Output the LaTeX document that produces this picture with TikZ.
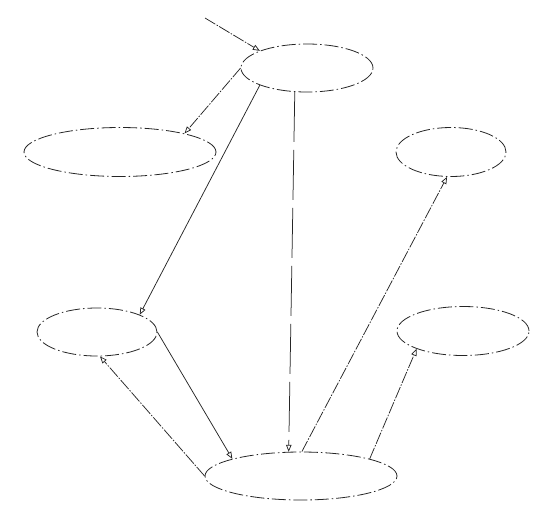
\documentclass[tikz,border=0pt]{standalone}
\usetikzlibrary{shapes.geometric,arrows.meta}
\begin{document}
\begin{tikzpicture}[x=1pt,y=-1pt,
  ell/.style={draw=black!85,ellipse,inner sep=0pt,line width=0.8pt,
    dash pattern=on 14pt off 3pt on 1.5pt off 3pt},
  conn/.style={draw=black!85,line width=0.75pt,
    dash pattern=on 12pt off 1.5pt on 1.5pt off 1.5pt,
    -{Triangle[open,length=7pt,width=5.5pt]}},
  plain/.style={draw=black!85,line width=0.75pt,
    -{Triangle[open,length=7pt,width=5.5pt]}},
  longdash/.style={draw=black!85,line width=0.75pt,
    dash pattern=on 50pt off 8pt,
    -{Triangle[open,length=7pt,width=5.5pt]}}]
\useasboundingbox (0,0) rectangle (553,528);
\node[ell,minimum width=132pt,minimum height=48pt] (A) at (307,68) {};
\node[ell,minimum width=192pt,minimum height=49pt] (B) at (120,152) {};
\node[ell,minimum width=110pt,minimum height=49pt] (C) at (451,152) {};
\node[ell,minimum width=120pt,minimum height=48pt] (D) at (97,332) {};
\node[ell,minimum width=132pt,minimum height=49pt] (E) at (463,331) {};
\node[ell,minimum width=192pt,minimum height=48pt] (F) at (301,476) {};
\coordinate (s) at (205,18);
\draw[conn] (s) -- (A.160);
\draw[conn] (A.180) -- (B.16);
\draw[plain] (A.200) -- (D.22);
\draw[longdash] (A.243) -- (F.117);
\draw[conn] (F.88) -- (C.261);
\draw[conn] (F.14) -- (E.201);
\draw[plain] (D.0) -- (F.166);
\draw[conn] (F.180) -- (D.277);
\end{tikzpicture}
\end{document}
